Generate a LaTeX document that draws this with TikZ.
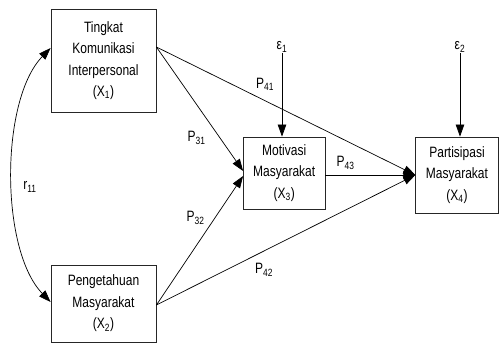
\documentclass[tikz,border=0pt]{standalone}
\usepackage{fontspec}
\setmainfont{Liberation Sans}[FakeStretch=0.8]
\usetikzlibrary{arrows.meta}
\newcommand{\mysub}[1]{\textsubscript{#1}}
\begin{document}
\begin{tikzpicture}[x=1pt,y=-1pt,
  box/.style={draw=black!85, line width=0.8pt, align=center, inner sep=0pt,
    font=\fontsize{15}{21.5}\selectfont},
  lbl/.style={font=\fontsize{15}{17}\selectfont, inner sep=1pt},
  arr/.style={line width=0.7pt, -{Triangle[length=12pt,width=8.5pt]}},
  dbl/.style={line width=0.7pt, {Triangle[length=12pt,width=8.5pt]}-{Triangle[length=12pt,width=8.5pt]}}]
\fill[white] (0,0) rectangle (499,343);
\useasboundingbox (0,0) rectangle (499,343);
\node[box, minimum width=105pt, minimum height=103pt] (x1) at (103.5,60.5)
  {Tingkat\\Komunikasi\\Interpersonal\\(X\mysub{1})};
\node[box, minimum width=105pt, minimum height=77pt] (x2) at (103.5,303.5)
  {Pengetahuan\\Masyarakat\\(X\mysub{2})};
\node[box, minimum width=81.5pt, minimum height=72pt] (x3) at (284.25,173)
  {Motivasi\\Masyarakat\\(X\mysub{3})};
\node[box, minimum width=82.5pt, minimum height=76pt] (x4) at (457,175)
  {Partisipasi\\Masyarakat\\(X\mysub{4})};
\node[lbl] (e1) at (282,47) {ε\mysub{1}};
\node[lbl] (e2) at (460,47) {ε\mysub{2}};
\draw[arr] (e1.south) -- (e1.south |- x3.north);
\draw[arr] (e2.south) -- (e2.south |- x4.north);
\draw[arr] ([yshift=13.5pt]x1.east) -- ([yshift=2pt]x3.west);
\draw[arr] ([yshift=-1.5pt]x2.east) -- ([yshift=-3pt]x3.west);
\draw[arr] ([yshift=13.5pt]x1.east) -- (x4.west);
\draw[arr] ([yshift=-1.5pt]x2.east) -- (x4.west);
\draw[arr] ([yshift=-2pt]x3.east) -- (x4.west);
\draw[dbl] ([yshift=12.5pt]x1.west) .. controls (0,100) and (0,250) .. ([yshift=1.5pt]x2.west);
\node[lbl] (r11) at (30,187) {r\mysub{11}};
\node[lbl] (p31) at (196.5,138) {P\mysub{31}};
\node[lbl] (p32) at (195.5,218) {P\mysub{32}};
\node[lbl] (p41) at (265,84) {P\mysub{41}};
\node[lbl] (p43) at (345.5,163) {P\mysub{43}};
\node[lbl] (p42) at (264,270) {P\mysub{42}};
\end{tikzpicture}
\end{document}
